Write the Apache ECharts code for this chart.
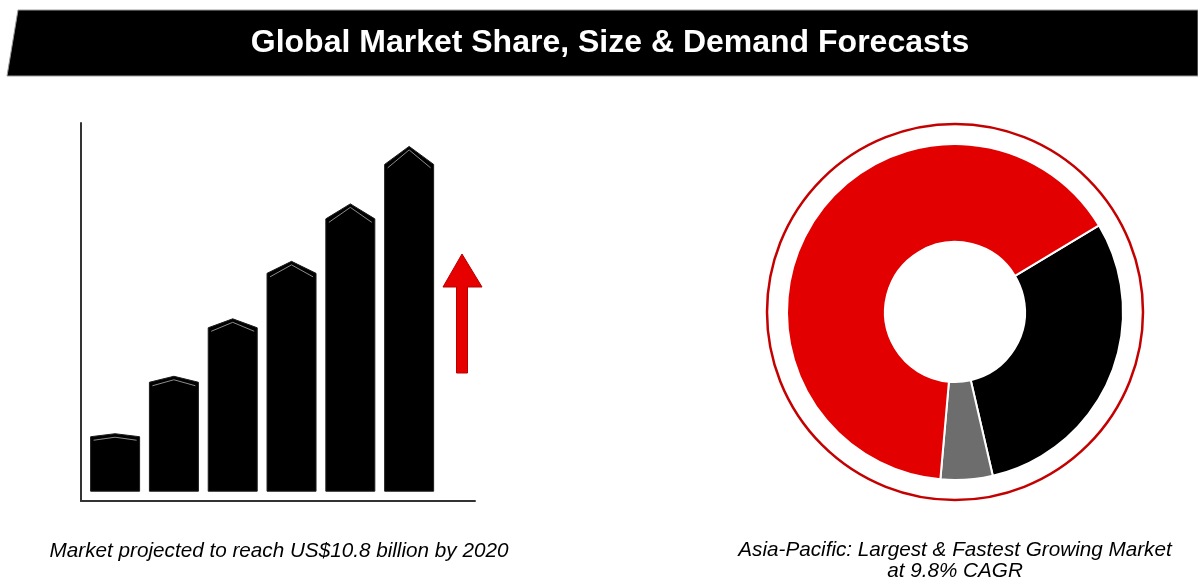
<!DOCTYPE html>
<html>
<head>
<meta charset="utf-8">
<script src="https://cdn.jsdelivr.net/npm/echarts@6/dist/echarts.min.js"></script>
<style>
  html, body { margin: 0; padding: 0; background: #ffffff; }
  #chart { width: 1198px; height: 584px; }
</style>
</head>
<body>
<div id="chart"></div>
<script>
// Growth bars: relative market size, one step per period
const barSlots = [1, 2, 3, 4, 5, 6];
const barValues = [1, 2, 3, 4, 5, 6];

// Regional split of the market (percent), drawn clockwise from the upper right
const regionNames = ['Region B', 'Region C', 'Asia-Pacific'];
const regionShares = [30, 5, 65];
const regionColors = ['#000000', '#6d6d6d', '#e20000'];

// Texts
const titleText = 'Global Market Share, Size & Demand Forecasts';
const leftCaption = 'Market projected to reach US$10.8 billion by 2020';
const rightCaption = ['Asia-Pacific: Largest & Fastest Growing Market', 'at 9.8% CAGR'];

const FONT = '"Liberation Sans", Arial, Helvetica, sans-serif';

// A bar with a pointed roof: shoulders sit at the value, the ridge rises a little above it
function renderHouseBar(params, api) {
  const x = api.value(0);
  const v = api.value(1);
  const base = api.coord([x, 0]);
  const top = api.coord([x, v]);
  const w = api.size([0.833, 0])[0];
  const h = base[1] - top[1];
  const rise = h * 0.055;
  const l = base[0] - w / 2;
  const r = base[0] + w / 2;
  const cx = base[0];
  return {
    type: 'group',
    children: [
      {
        type: 'polygon',
        shape: { points: [[l, base[1]], [l, top[1]], [cx, top[1] - rise], [r, top[1]], [r, base[1]]] },
        style: { fill: '#000000', stroke: '#1c1c1c', lineWidth: 1, lineJoin: 'round' }
      },
      {
        type: 'polyline',
        shape: { points: [[l + 3, top[1] + 3.5], [cx, top[1] - rise + 3.5], [r - 3, top[1] + 3.5]] },
        style: { stroke: '#8c8c8c', lineWidth: 1, fill: null }
      }
    ]
  };
}

const chart = echarts.init(document.getElementById('chart'), null, { renderer: 'canvas' });

chart.setOption({
  animation: false,
  backgroundColor: '#ffffff',
  grid: { left: 81, top: 123, right: 723, bottom: 83, containLabel: false },
  xAxis: {
    type: 'value',
    min: 0.42,
    max: 7.12,
    axisLine: { show: true, onZero: false, lineStyle: { color: '#333333', width: 2 } },
    axisTick: { show: false },
    axisLabel: { show: false },
    splitLine: { show: false }
  },
  yAxis: {
    type: 'value',
    min: -0.18,
    max: 6.76,
    axisLine: { show: true, onZero: false, lineStyle: { color: '#333333', width: 2 } },
    axisTick: { show: false },
    axisLabel: { show: false },
    splitLine: { show: false }
  },
  series: [
    {
      type: 'custom',
      silent: true,
      renderItem: renderHouseBar,
      data: barSlots.map((s, i) => [s, barValues[i]]),
      clip: false
    },
    {
      type: 'pie',
      silent: true,
      center: [955, 312],
      radius: [70, 168],
      startAngle: 31,
      clockwise: true,
      label: { show: false },
      labelLine: { show: false },
      emphasis: { disabled: true },
      itemStyle: { borderColor: '#ffffff', borderWidth: 2 },
      data: regionNames.map((n, i) => ({
        name: n,
        value: regionShares[i],
        itemStyle: { color: regionColors[i] }
      }))
    }
  ],
  graphic: [
    // title banner
    {
      type: 'polygon',
      silent: true,
      z: 0,
      shape: { points: [[18, 10], [1198, 10], [1198, 76], [7, 76]] },
      style: { fill: '#000000', stroke: '#9a9a9a', lineWidth: 1 }
    },
    {
      type: 'text',
      silent: true,
      z: 1,
      x: 610,
      y: 43,
      style: {
        text: titleText,
        fill: '#ffffff',
        font: 'bold 32px ' + FONT,
        align: 'center',
        verticalAlign: 'middle'
      }
    },
    // upward growth arrow
    {
      type: 'polygon',
      silent: true,
      shape: {
        points: [[462, 254], [482, 287], [467.5, 287], [467.5, 373], [456.5, 373], [456.5, 287], [443, 287]]
      },
      style: { fill: '#e60000', stroke: '#b80000', lineWidth: 1 }
    },
    // outer ring around the donut
    {
      type: 'circle',
      silent: true,
      shape: { cx: 955, cy: 312, r: 188 },
      style: { fill: null, stroke: '#c40000', lineWidth: 2.5 }
    },
    // captions
    {
      type: 'text',
      silent: true,
      x: 279,
      y: 551,
      style: {
        text: leftCaption,
        fill: '#000000',
        font: 'italic 20.7px ' + FONT,
        align: 'center',
        verticalAlign: 'middle'
      }
    },
    {
      type: 'text',
      silent: true,
      x: 955,
      y: 561,
      style: {
        text: rightCaption.join('\n'),
        fill: '#000000',
        font: 'italic 20.7px ' + FONT,
        lineHeight: 21,
        align: 'center',
        verticalAlign: 'middle'
      }
    }
  ]
});
</script>
</body>
</html>
